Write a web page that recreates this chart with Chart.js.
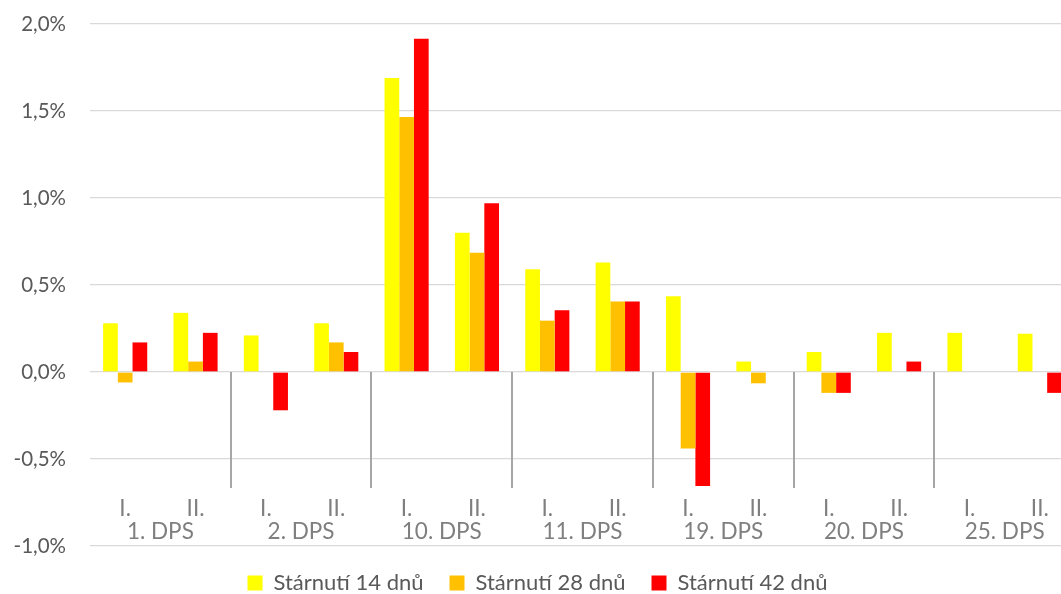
<!DOCTYPE html>
<html>
<head>
<meta charset="utf-8">
<script src="https://cdn.jsdelivr.net/npm/chart.js@4/dist/chart.umd.min.js"></script>
<style>
  html, body { margin: 0; padding: 0; background: #ffffff; overflow: hidden; }
  #wrap { width: 1080px; height: 604px; position: relative; }
</style>
</head>
<body>
<div id="wrap"><canvas id="c"></canvas></div>
<script>
const subLabels = ['I.', 'II.', 'I.', 'II.', 'I.', 'II.', 'I.', 'II.', 'I.', 'II.', 'I.', 'II.', 'I.', 'II.'];
const groupLabels = ['1. DPS', '2. DPS', '10. DPS', '11. DPS', '19. DPS', '20. DPS', '25. DPS'];
const seriesNames = ['Stárnutí 14 dnů', 'Stárnutí 28 dnů', 'Stárnutí 42 dnů'];
const aging14 = [0.28, 0.34, 0.21, 0.28, 1.69, 0.80, 0.59, 0.63, 0.435, 0.06, 0.115, 0.225, 0.225, 0.22];
const aging28 = [-0.06, 0.06, null, 0.17, 1.465, 0.685, 0.295, 0.405, -0.44, -0.065, -0.12, null, null, null];
const aging42 = [0.17, 0.225, -0.22, 0.115, 1.915, 0.97, 0.355, 0.405, -0.655, null, -0.12, 0.06, null, -0.12];
const seriesColors = ['#FFFF00', '#FFC000', '#FF0000'];

const FONT = 'Lato, "Open Sans", sans-serif';

function noPad(s) { s.paddingLeft = 0; s.paddingRight = 0; s.paddingTop = 0; s.paddingBottom = 0; }

new Chart(document.getElementById('c'), {
  type: 'bar',
  data: {
    labels: subLabels,
    datasets: [aging14, aging28, aging42].map((d, i) => ({
      label: seriesNames[i],
      data: d,
      backgroundColor: seriesColors[i],
      borderWidth: 0,
      categoryPercentage: 0.627,
      barPercentage: 1.0
    }))
  },
  options: {
    responsive: true,
    maintainAspectRatio: false,
    animation: false,
    layout: { padding: { top: 24, left: 0, right: 5, bottom: 0 } },
    plugins: {
      tooltip: { enabled: false },
      legend: {
        position: 'bottom',
        labels: {
          font: { family: FONT, size: 22 },
          color: '#595959',
          boxWidth: 15,
          boxHeight: 15,
          padding: 26
        }
      }
    },
    scales: {
      y: {
        min: -1,
        max: 2,
        ticks: {
          stepSize: 0.5,
          padding: 24,
          color: '#595959',
          font: { family: FONT, size: 20.5 },
          callback: v => v.toFixed(1).replace('.', ',') + '%'
        },
        grid: { color: '#d9d9d9', lineWidth: 1.3, drawTicks: false },
        border: { display: false },
        afterFit: s => { s.width = 90; noPad(s); }
      },
      x: {
        type: 'category',
        labels: subLabels,
        position: { y: 0 },
        offset: true,
        grid: { display: false, drawTicks: false, offset: true },
        border: { display: false },
        ticks: {
          padding: 123,
          color: '#7f7f7f',
          font: { family: FONT, size: 22.5 },
          maxRotation: 0,
          autoSkip: false
        },
        afterFit: s => { s.height = 0; noPad(s); }
      },
      x2: {
        type: 'category',
        labels: groupLabels,
        position: { y: 0 },
        offset: true,
        grid: {
          display: true,
          drawOnChartArea: false,
          drawTicks: true,
          tickLength: 116,
          offset: true,
          lineWidth: 2,
          color: ctx => (ctx.index === 0 || ctx.index === groupLabels.length) ? 'rgba(0,0,0,0)' : '#a6a6a6'
        },
        border: { display: false },
        ticks: {
          padding: 30,
          color: '#7f7f7f',
          font: { family: FONT, size: 22.5 },
          maxRotation: 0,
          autoSkip: false
        },
        afterFit: s => { s.height = 0; noPad(s); }
      }
    }
  }
});
</script>
</body>
</html>
